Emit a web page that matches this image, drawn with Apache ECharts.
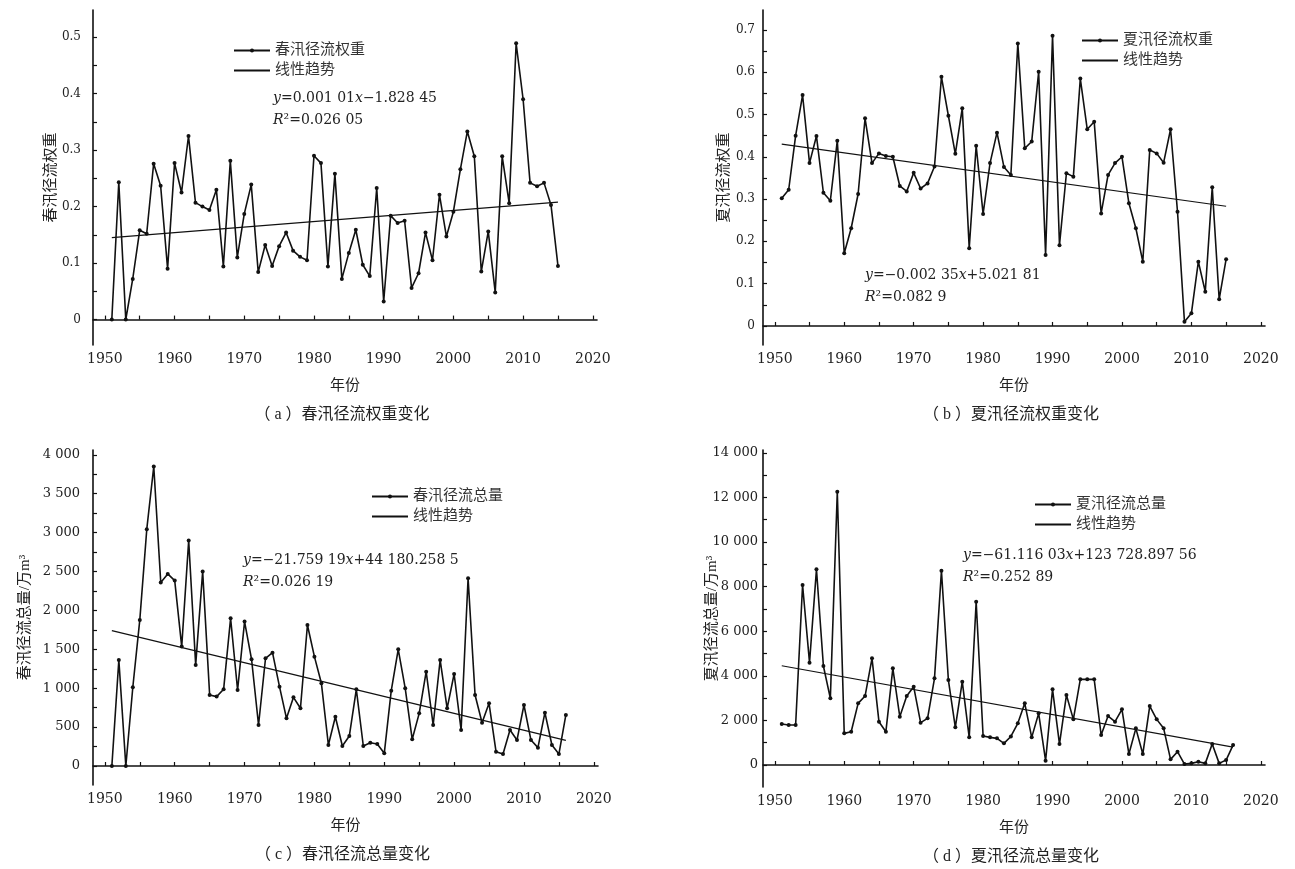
<!DOCTYPE html>
<html><head><meta charset="utf-8">
<script src="https://cdn.jsdelivr.net/npm/echarts@6/dist/echarts.min.js"></script>
<style>html,body{margin:0;padding:0;background:#fff}#c{width:1295px;height:869px}</style>
</head><body><div id="c"></div>
<script>
const yearsW = [1951,1952,1953,1954,1955,1956,1957,1958,1959,1960,1961,1962,1963,1964,1965,1966,1967,1968,1969,1970,1971,1972,1973,1974,1975,1976,1977,1978,1979,1980,1981,1982,1983,1984,1985,1986,1987,1988,1989,1990,1991,1992,1993,1994,1995,1996,1997,1998,1999,2000,2001,2002,2003,2004,2005,2006,2007,2008,2009,2010,2011,2012,2013,2014,2015];
const yearsT = [1951,1952,1953,1954,1955,1956,1957,1958,1959,1960,1961,1962,1963,1964,1965,1966,1967,1968,1969,1970,1971,1972,1973,1974,1975,1976,1977,1978,1979,1980,1981,1982,1983,1984,1985,1986,1987,1988,1989,1990,1991,1992,1993,1994,1995,1996,1997,1998,1999,2000,2001,2002,2003,2004,2005,2006,2007,2008,2009,2010,2011,2012,2013,2014,2015,2016];

const springWeight = [0,0.243,0,0.072,0.158,0.152,0.276,0.237,0.09,0.277,
  0.225,0.325,0.207,0.2,0.194,0.23,0.094,0.281,0.11,0.187,
  0.239,0.084,0.132,0.095,0.13,0.154,0.122,0.111,0.105,0.29,
  0.277,0.094,0.258,0.072,0.118,0.159,0.097,0.077,0.233,0.032,
  0.184,0.171,0.175,0.056,0.082,0.154,0.105,0.221,0.147,0.191,
  0.266,0.333,0.289,0.085,0.156,0.048,0.289,0.206,0.489,0.39,
  0.242,0.236,0.242,0.203,0.095];
const summerWeight = [0.302,0.322,0.45,0.546,0.385,0.449,0.315,0.296,0.438,0.172,
  0.231,0.312,0.491,0.385,0.408,0.402,0.4,0.331,0.318,0.362,
  0.325,0.337,0.377,0.589,0.497,0.407,0.515,0.184,0.426,0.265,
  0.385,0.457,0.376,0.357,0.668,0.42,0.436,0.601,0.168,0.686,
  0.191,0.361,0.353,0.585,0.465,0.483,0.266,0.357,0.385,0.4,
  0.29,0.231,0.152,0.416,0.408,0.386,0.465,0.27,0.01,0.03,
  0.152,0.081,0.328,0.063,0.158];
const springTotal = [0,1363,0,1012,1878,3044,3850,2358,2469,2383,
  1535,2898,1299,2499,913,892,986,1899,977,1856,
  1372,527,1385,1457,1020,613,883,742,1813,1406,
  1063,270,634,257,386,986,257,300,283,163,
  969,1500,999,343,677,1213,527,1363,742,1183,
  463,2414,913,557,806,184,154,463,334,784,
  334,236,686,270,154,656];
const summerTotal = [1837,1792,1792,8071,4588,8774,4438,2988,12257,1418,
  1493,2764,3093,4782,1942,1493,4334,2166,3093,3512,
  1897,2091,3885,8714,3811,1688,3736,1239,7324,1299,
  1239,1194,970,1280,1867,2764,1239,2316,193,3392,
  940,3138,2046,3840,3840,3840,1344,2196,1942,2495,
  492,1643,492,2645,2046,1643,253,596,43,73,
  148,73,940,73,222,893];

const trendA = [[1951,0.145],[2015,0.208]];
const trendB = [[1951,0.43],[2015,0.283]];
const trendC = [[1951,1740],[2016,330]];
const trendD = [[1951,4450],[2016,800]];

const xTicks = [1950,1955,1960,1965,1970,1975,1980,1985,1990,1995,2000,2005,2010,2015,2020];
const xLabels = [1950,1960,1970,1980,1990,2000,2010,2020];
const yTicksA = [0,0.05,0.1,0.15,0.2,0.25,0.3,0.35,0.4,0.45,0.5];
const yLabelsA = [0,0.1,0.2,0.3,0.4,0.5];
const yTicksB = [0,0.05,0.1,0.15,0.2,0.25,0.3,0.35,0.4,0.45,0.5,0.55,0.6,0.65,0.7];
const yLabelsB = [0,0.1,0.2,0.3,0.4,0.5,0.6,0.7];
const yTicksC = [0,250,500,750,1000,1250,1500,1750,2000,2250,2500,2750,3000,3250,3500,3750,4000];
const yLabelsC = [0,500,1000,1500,2000,2500,3000,3500,4000];
const yTicksD = [0,1000,2000,3000,4000,5000,6000,7000,8000,9000,10000,11000,12000,13000,14000];
const yLabelsD = [0,2000,4000,6000,8000,10000,12000,14000];

const names = {
  a: ['春汛径流权重','春汛径流权重','（ a ）春汛径流权重变化'],
  b: ['夏汛径流权重','夏汛径流权重','（ b ）夏汛径流权重变化'],
  c: ['春汛径流总量','春汛径流总量/万m³','（ c ）春汛径流总量变化'],
  d: ['夏汛径流总量','夏汛径流总量/万m³','（ d ）夏汛径流总量变化']
};
const trendName = '线性趋势';
const xName = '年份';
const eqs = {
  a: ['{i|y}=0.001 01{i|x}−1.828 45','{i|R}²=0.026 05'],
  b: ['{i|y}=−0.002 35{i|x}+5.021 81','{i|R}²=0.082 9'],
  c: ['{i|y}=−21.759 19{i|x}+44 180.258 5','{i|R}²=0.026 19'],
  d: ['{i|y}=−61.116 03{i|x}+123 728.897 56','{i|R}²=0.252 89']
};

const FONT = '"DejaVu Serif","Liberation Serif","Noto Sans CJK SC",serif';
const CJK = '"Liberation Serif","Noto Sans CJK SC",serif';
const TXT = '#222';
const fmtThousands = v => { const s = String(Math.round(v)); return s.length > 3 ? s.slice(0, -3) + ' ' + s.slice(-3) : s; };

const panels = [
  {k:'a', grid:{left:93,top:10,width:504,height:335}, ymin:-0.045, ymax:0.548, yt:yTicksA, yl:yLabelsA, fmt:v=>String(v), lfs:12, lm:12, ng:34, years:yearsW, vals:springWeight, trend:trendA,
   legend:{left:228,top:38}, eq:[273,100]},
  {k:'b', grid:{left:763,top:10,width:502,height:335}, ymin:-0.045, ymax:0.747, yt:yTicksB, yl:yLabelsB, fmt:v=>String(v), lfs:12, lm:8, ng:31, years:yearsW, vals:summerWeight, trend:trendB,
   legend:{left:1076,top:28}, eq:[865,277]},
  {k:'c', grid:{left:93,top:450,width:505,height:335}, ymin:-244, ymax:4062, yt:yTicksC, yl:yLabelsC, fmt:fmtThousands, lfs:13, lm:13, ng:60, years:yearsT, vals:springTotal, trend:trendC,
   legend:{left:366,top:484}, eq:[243,562]},
  {k:'d', grid:{left:763,top:450,width:502,height:337}, ymin:-987, ymax:14126, yt:yTicksD, yl:yLabelsD, fmt:fmtThousands, lfs:13, lm:5, ng:43, years:yearsT, vals:summerTotal, trend:trendD,
   legend:{left:1029,top:492}, eq:[963,557]}
];

const option = {
  backgroundColor:'#fff',
  animation:false,
  textStyle:{fontFamily:FONT, color:TXT},
  grid:[], xAxis:[], yAxis:[], series:[], legend:[], graphic:[]
};

panels.forEach((p,i) => {
  option.grid.push(Object.assign({containLabel:false}, p.grid));
  option.xAxis.push({
    type:'value', gridIndex:i, min:1948.3, max:2020.6,
    name:xName, nameLocation:'middle', nameGap:34, nameMoveOverlap:false,
    nameTextStyle:{fontFamily:CJK, fontSize:15, color:TXT},
    axisLine:{lineStyle:{color:'#111', width:1.6}},
    axisTick:{inside:true, length:4, lineStyle:{color:'#111', width:1.2}, customValues:xTicks},
    axisLabel:{fontFamily:FONT, fontSize:14, color:TXT, margin:7, customValues:xLabels, formatter:v=>String(v)},
    splitLine:{show:false}
  });
  option.yAxis.push({
    type:'value', gridIndex:i, min:p.ymin, max:p.ymax,
    name:names[p.k][1], nameLocation:'middle', nameRotate:90, nameGap:p.ng, nameMoveOverlap:false,
    nameTextStyle:{fontFamily:CJK, fontSize:15, color:TXT},
    axisLine:{show:true, lineStyle:{color:'#111', width:1.6}},
    axisTick:{show:true, inside:true, length:4, lineStyle:{color:'#111', width:1.2}, customValues:p.yt},
    axisLabel:{fontFamily:FONT, fontSize:p.lfs, color:TXT, margin:p.lm, customValues:p.yl, formatter:p.fmt},
    splitLine:{show:false}
  });
  option.series.push({
    type:'line', name:names[p.k][0], xAxisIndex:i, yAxisIndex:i,
    data:p.years.map((y,j)=>[y,p.vals[j]]),
    symbol:'circle', symbolSize:4, showSymbol:true,
    lineStyle:{color:'#111', width:1.6}, itemStyle:{color:'#111'}
  });
  option.series.push({
    type:'line', name:trendName, xAxisIndex:i, yAxisIndex:i,
    data:p.trend, symbol:'none',
    lineStyle:{color:'#111', width:1.2}, itemStyle:{color:'#111'}
  });
  option.legend.push({
    left:p.legend.left, top:p.legend.top, orient:'vertical',
    itemWidth:36, itemHeight:5, itemGap:5,
    data:[{name:names[p.k][0]}, {name:trendName, itemStyle:{opacity:0}}],
    textStyle:{fontFamily:CJK, fontSize:15, color:'#333'},
    selectedMode:false
  });
  eqs[p.k].forEach((t,j) => {
    option.graphic.push({
      type:'text', left:p.eq[0], top:p.eq[1] - 9 + j*22,
      style:{text:t, fill:TXT, font:'14px ' + FONT,
        rich:{i:{fontStyle:'italic', fontFamily:FONT, fontSize:14, fill:TXT}}}
    });
  });
  const cx = p.grid.left + p.grid.width/2 - 3;
  const cy = p.grid.top + p.grid.height + 70;
  option.graphic.push({
    type:'text', x:cx, y:cy,
    style:{text:names[p.k][2], fill:TXT, font:'16px ' + CJK, align:'center', verticalAlign:'middle'}
  });
});

const chart = echarts.init(document.getElementById('c'), null, {renderer:'canvas'});
chart.setOption(option);
</script>
</body></html>
